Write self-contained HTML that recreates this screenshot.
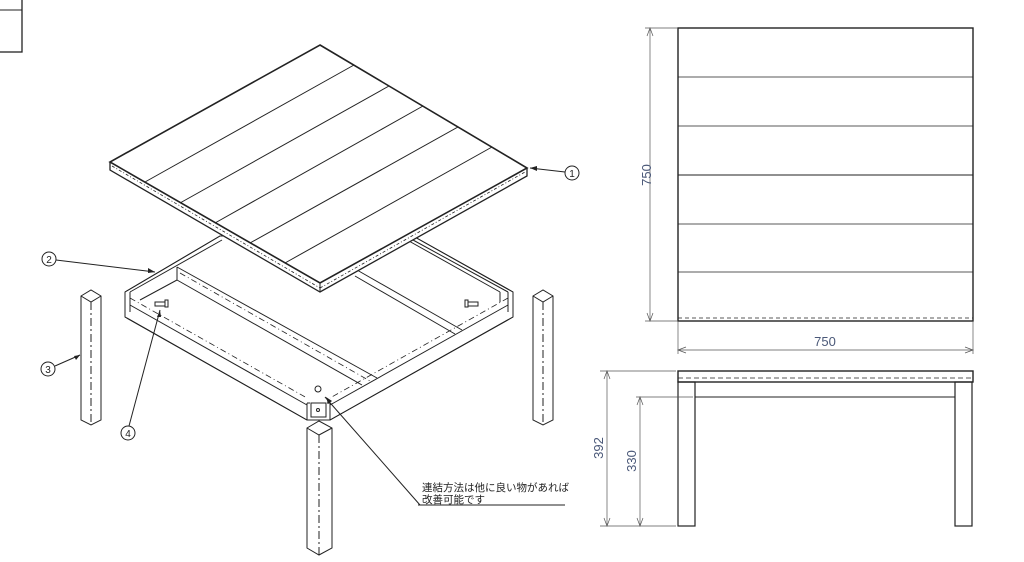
<!DOCTYPE html>
<html><head><meta charset="utf-8"><style>
html,body{margin:0;padding:0;background:#fff;width:1024px;height:562px;overflow:hidden}
svg{display:block}
text{font-family:"Liberation Sans","Noto Sans CJK JP",sans-serif}
</style></head><body>
<svg width="1024" height="562" viewBox="0 0 1024 562" xmlns="http://www.w3.org/2000/svg">
<g fill="none" stroke="#222" stroke-width="1">
<!-- corner box -->
<rect x="-2" y="-2" width="24" height="54" stroke-width="1.3"/>
<line x1="-2" y1="10" x2="22" y2="10"/>

<!-- frame (behind tabletop) -->
<g fill="#fff">
<polygon points="125,292 220,236 413,236 513,292 513,317 330,420 307,420 125,317"/>
</g>
<polyline points="125,292 220,236"/>
<polyline points="513,292 413,236"/>
<polyline points="130,292 222,240"/>
<polyline points="508,292 413,240"/>
<line x1="125" y1="292" x2="125" y2="317"/>
<line x1="513" y1="292" x2="513" y2="317"/>
<line x1="130" y1="292" x2="130" y2="312"/>
<line x1="508" y1="292" x2="508" y2="312"/>
<line x1="125" y1="317" x2="307" y2="420"/>
<line x1="513" y1="317" x2="330" y2="420"/>
<line x1="130" y1="305" x2="307" y2="405"/>
<line x1="508" y1="305" x2="330" y2="405"/>
<line x1="130" y1="298" x2="307" y2="398" stroke-dasharray="6,3,1,3" stroke-width="0.8"/>
<line x1="508" y1="298" x2="330" y2="398" stroke-dasharray="6,3,1,3" stroke-width="0.8"/>
<line x1="307" y1="403" x2="307" y2="420"/>
<line x1="330" y1="403" x2="330" y2="420"/>
<!-- inner rails -->
<line x1="140" y1="300" x2="177" y2="280"/>
<line x1="177" y1="267" x2="177" y2="280"/>
<line x1="177" y1="267" x2="377" y2="378"/>
<line x1="177" y1="280" x2="362" y2="385"/>
<line x1="180" y1="273" x2="370" y2="381" stroke-dasharray="6,3,1,3" stroke-width="0.8"/>
<line x1="357" y1="270" x2="462" y2="330"/>
<line x1="355" y1="276" x2="455" y2="334"/>
<line x1="400" y1="236" x2="500" y2="292"/>
<line x1="500" y1="292" x2="500" y2="302"/>
<!-- bolts -->
<rect x="155" y="302" width="10" height="4"/><rect x="165" y="300" width="3" height="7"/>
<rect x="468" y="302" width="10" height="4"/><rect x="465" y="300" width="3" height="7"/>
<!-- corner bracket -->
<rect x="311" y="403" width="15" height="14" fill="#fff"/>
<line x1="307" y1="403" x2="330" y2="403" stroke-dasharray="3,2"/>
<circle cx="318" cy="410" r="1.5"/>
<circle cx="318" cy="389" r="3"/>

<!-- tabletop -->
<polygon points="320,45 527,168 527,176 320,292 110,170 110,162" fill="#fff" stroke="#fff"/>
<polygon points="320,45 527,168 320,283 110,162" stroke-width="1.6"/>
<polyline points="110,162 110,170 320,292 527,176 527,168" stroke-width="1.3"/>
<line x1="320" y1="283" x2="320" y2="292"/>
<line x1="112" y1="166" x2="320" y2="288" stroke-dasharray="3,2,1,2" stroke-width="0.8"/>
<line x1="320" y1="288" x2="525" y2="172" stroke-dasharray="3,2,1,2" stroke-width="0.8"/>
<line x1="354" y1="65" x2="145" y2="182"/>
<line x1="389" y1="86" x2="180" y2="203"/>
<line x1="423" y1="106" x2="215" y2="223"/>
<line x1="458" y1="127" x2="250" y2="243"/>
<line x1="492" y1="147" x2="285" y2="263"/>

<!-- legs -->
<g fill="#fff">
<polygon points="81,296 91,290 101,296 101,420 91,425 81,420"/>
<polyline points="81,296 91,302 101,296"/>
<line x1="91" y1="302" x2="91" y2="425" stroke-dasharray="8,3,2,3"/>
<polygon points="533,296 543,290 553,296 553,420 543,425 533,420"/>
<polyline points="533,296 543,302 553,296"/>
<line x1="543" y1="302" x2="543" y2="425" stroke-dasharray="8,3,2,3"/>
<polygon points="307,428 319,421 332,428 332,548 319,555 307,548"/>
<polyline points="307,428 319,435 332,428"/>
<line x1="319" y1="435" x2="319" y2="555" stroke-dasharray="8,3,2,3"/>
</g>

<!-- balloons -->
<circle cx="572" cy="173" r="7"/><line x1="565" y1="172" x2="530" y2="168"/>
<circle cx="49" cy="259" r="7"/><line x1="56" y1="260" x2="155" y2="272"/>
<circle cx="48" cy="369" r="7"/><line x1="55" y1="366" x2="80" y2="355"/>
<circle cx="128" cy="433" r="7"/><line x1="129" y1="426" x2="160" y2="310"/>
<line x1="325" y1="397" x2="420" y2="505"/>
<line x1="418" y1="505" x2="565" y2="505"/>
<g fill="#222" stroke="none">
<polygon points="530,168 537,166 537,171"/>
<polygon points="155,272 148,268 148,273"/>
<polygon points="80,355 74,356 76,360"/>
<polygon points="160,310 157,317 161,317"/>
<polygon points="326,397 328,404 332,401"/>
</g>

<!-- top view -->
<rect x="678" y="28" width="295" height="293" stroke-width="1.4"/>
<line x1="678" y1="318" x2="973" y2="318" stroke-dasharray="4,3" stroke-width="0.7"/>
<line x1="678" y1="77" x2="973" y2="77" stroke-width="0.7"/>
<line x1="678" y1="126" x2="973" y2="126" stroke-width="0.7"/>
<line x1="678" y1="175" x2="973" y2="175" stroke-width="1"/>
<line x1="678" y1="224" x2="973" y2="224" stroke-width="0.7"/>
<line x1="678" y1="272" x2="973" y2="272" stroke-width="0.7"/>
<g stroke="#555" stroke-width="0.7">
<line x1="645" y1="28" x2="678" y2="28"/><line x1="645" y1="321" x2="678" y2="321"/>
<line x1="650" y1="28" x2="650" y2="321"/>
<line x1="678" y1="321" x2="678" y2="354"/><line x1="973" y1="321" x2="973" y2="354"/>
<line x1="678" y1="350" x2="973" y2="350"/>
<polyline points="647,36 650,28 653,36"/><polyline points="647,313 650,321 653,313"/>
<polyline points="686,347 678,350 686,353"/><polyline points="965,347 973,350 965,353"/>
</g>

<!-- side view -->
<rect x="678" y="371" width="295" height="11" stroke-width="1.4"/>
<line x1="678" y1="378" x2="973" y2="378" stroke-dasharray="5,3" stroke-width="0.7"/>
<rect x="678" y="382" width="17" height="144" stroke-width="1.2"/>
<rect x="955" y="382" width="17" height="144" stroke-width="1.2"/>
<line x1="695" y1="397" x2="955" y2="397"/>
<g stroke="#555" stroke-width="0.7">
<line x1="600" y1="371" x2="676" y2="371"/><line x1="600" y1="526" x2="676" y2="526"/>
<line x1="636" y1="397" x2="693" y2="397"/>
<line x1="607" y1="371" x2="607" y2="526"/>
<line x1="640" y1="397" x2="640" y2="526"/>
<polyline points="604,379 607,371 610,379"/><polyline points="604,518 607,526 610,518"/>
<polyline points="637,405 640,397 643,405"/><polyline points="637,518 640,526 643,518"/>
</g>
</g>
<g fill="#222" font-size="10">
<text x="572" y="177" text-anchor="middle">1</text>
<text x="49" y="263" text-anchor="middle">2</text>
<text x="48" y="373" text-anchor="middle">3</text>
<text x="128" y="437" text-anchor="middle">4</text>
<text x="422" y="491" font-size="10.5">連結方法は他に良い物があれば</text>
<text x="422" y="503" font-size="10.5">改善可能です</text>
</g>
<g fill="#4a5878" font-size="13">
<text x="825" y="346" text-anchor="middle">750</text>
<text transform="translate(651,175) rotate(-90)" text-anchor="middle">750</text>
<text transform="translate(603,448) rotate(-90)" text-anchor="middle">392</text>
<text transform="translate(636,461) rotate(-90)" text-anchor="middle">330</text>
</g>
</svg>
</body></html>
